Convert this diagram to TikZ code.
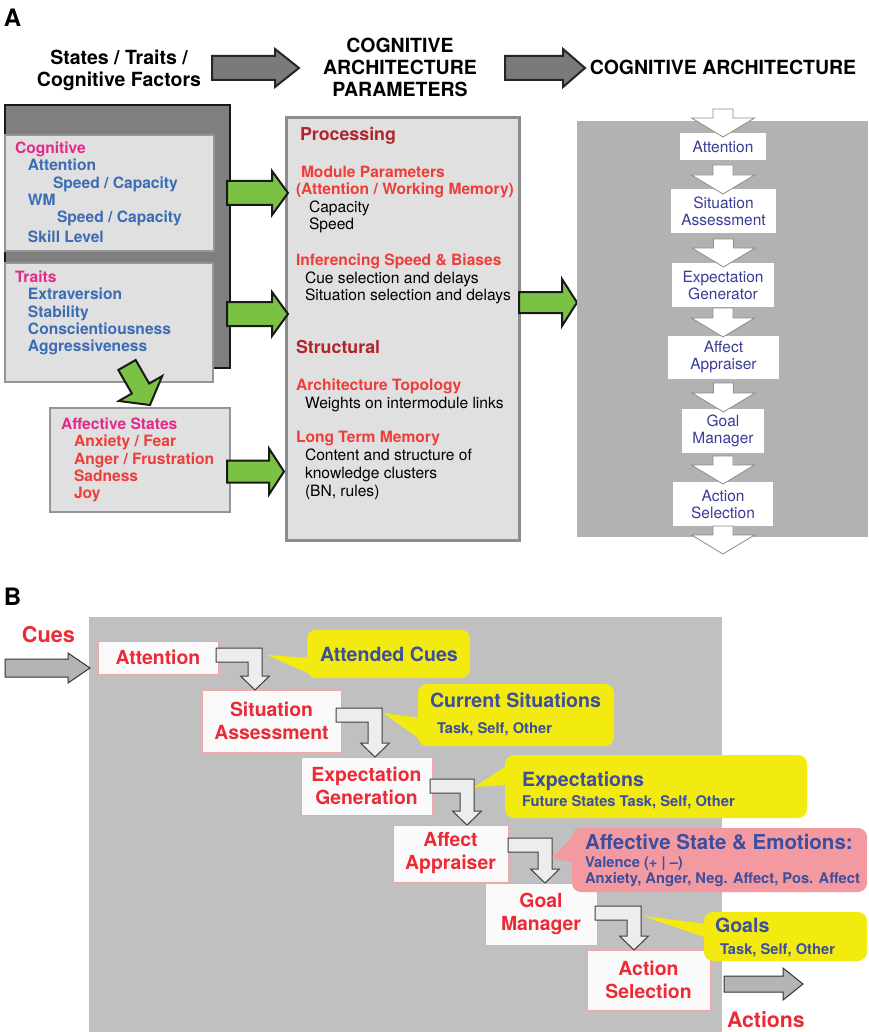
\documentclass[tikz,border=0pt]{standalone}
\usepackage{fontspec}
\setmainfont{TeX Gyre Heros}
\usetikzlibrary{calc}

\definecolor{magA}{HTML}{E5288B}
\definecolor{blueA}{HTML}{3B6CB4}
\definecolor{redA}{HTML}{EE3E3A}
\definecolor{darkredA}{HTML}{B0252B}
\definecolor{indigoA}{HTML}{3A3C98}
\definecolor{boxgray}{HTML}{E0E0E0}
\definecolor{boxline}{HTML}{959595}
\definecolor{darkpanel}{HTML}{7F7F7F}
\definecolor{archpanel}{HTML}{B2B2B2}
\definecolor{panelB}{HTML}{C0C0C0}
\definecolor{greenarrow}{HTML}{7BC143}
\definecolor{hdrarrow}{HTML}{7A7A7A}
\definecolor{lightarrow}{HTML}{B3B4B3}
\definecolor{redB}{HTML}{EC2A35}
\definecolor{nodeB}{HTML}{FAFAFA}
\definecolor{nodeBline}{HTML}{F5A3AB}
\definecolor{bendfill}{HTML}{EDEDED}
\definecolor{calloutY}{HTML}{F3EB0F}
\definecolor{calloutP}{HTML}{F39AA1}
\definecolor{blueB}{HTML}{3C4E9F}

\newcommand\setfs[2]{\fontsize{#1}{#2}\selectfont}

% straight block arrow: style, start, tip, body half-width, head half-width, head length
\newcommand\blockarrow[6]{%
  \path ($(#3)!#6!(#2)$) coordinate (baB);
  \draw[#1] ($(#2)!#4!90:(#3)$) -- ($(baB)!#4!90:(#3)$) -- ($(baB)!#5!90:(#3)$)
    -- (#3) -- ($(baB)!#5!-90:(#3)$) -- ($(baB)!#4!-90:(#3)$) -- ($(#2)!#4!-90:(#3)$) -- cycle;}

% white downward block arrow of the architecture column: start, tip
\newcommand\downblock[2]{%
  \draw[warr] let \p1=(#1), \p2=(#2) in
    (\x1-10pt,\y1) -- (\x1+10pt,\y1) -- (\x1+10pt,\y2+19pt) -- (\x1+31.5pt,\y2+19pt)
    -- (\x1,\y2) -- (\x1-31.5pt,\y2+19pt) -- (\x1-10pt,\y2+19pt) -- cycle;}

% bent arrow of the processing loop: bar top-left, target node, bar length
\newcommand\Lbend[3]{%
  \draw[bendarr] let \p1=(#1), \p2=(#2.north) in
    (\x1,\y1) -- (\x1+#3,\y1) -- (\x1+#3,\y2+14pt) -- (\x1+#3+7.5pt,\y2+14pt)
    -- (\x1+#3-7pt,\y2) -- (\x1+#3-21.5pt,\y2+14pt) -- (\x1+#3-14pt,\y2+14pt)
    -- (\x1+#3-14pt,\y1-14pt) -- (\x1,\y1-14pt) -- cycle;}

\begin{document}
\begin{tikzpicture}[x=1pt,y=-1pt,
  every node/.style={inner sep=0pt, outer sep=0pt},
  hdr/.style={align=center, font=\bfseries\setfs{19.5}{22.3}},
  hdrarr/.style={fill=hdrarrow, draw=black!85, line width=2pt, line join=miter},
  garr/.style={fill=greenarrow, draw=black!90, line width=2pt, line join=miter},
  larr/.style={fill=lightarrow, draw=black!80, line width=1pt, line join=miter},
  warr/.style={fill=white, draw=black!45, line width=0.8pt, line join=miter},
  bendarr/.style={fill=bendfill, draw=black!75, line width=1pt, line join=miter},
  dkbox/.style={anchor=north west, fill=darkpanel, draw=black!90, line width=2pt},
  lbox/.style={anchor=north west, fill=boxgray, draw=boxline, line width=2.2pt},
  mbox/.style={anchor=north west, fill=boxgray, draw=black!45, line width=3pt},
  ltxt/.style={anchor=north west, align=left, font=\bfseries\setfs{15.6}{17.3}},
  mtxt/.style={anchor=north west, align=left, font=\setfs{15.6}{17.4}},
  mhead/.style={anchor=base west, text=darkredA, font=\bfseries\setfs{17.8}{18}},
  anode/.style={fill=white, align=center, text=indigoA, font=\setfs{15.5}{17}},
  bnode/.style={fill=nodeB, draw=nodeBline, line width=1pt, align=center, text=redB,
    font=\bfseries\setfs{19.4}{23}},
  callout/.style={anchor=north west, fill=#1, rounded corners=9pt},
  ctxt/.style={anchor=base west, text=blueB, font=\bfseries\setfs{19.6}{20}},
  csub/.style={anchor=base west, text=blueB, font=\bfseries\setfs{14.7}{15}}]

\useasboundingbox (0,0) rectangle (868,1032);
\fill[white] (0,0) rectangle (868,1032);

% ---------------- Panel A ----------------
\node[anchor=base west, font=\bfseries\setfs{24}{24}] (labA) at (4,26.5) {A};

\node[hdr] (hdr1) at (119,70.5) {States / Traits /\\Cognitive Factors};
\node[hdr] (hdr2) at (400,67.5) {COGNITIVE\\ARCHITECTURE\\PARAMETERS};
\node[hdr, anchor=base] (hdr3) at (723,75) {COGNITIVE ARCHITECTURE};

\coordinate (h1s) at (212,68);
\coordinate (h1t) at (299,68);
\blockarrow{hdrarr}{h1s}{h1t}{12pt}{19pt}{24pt}
\coordinate (h2s) at (505,68);
\coordinate (h2t) at (585,68);
\blockarrow{hdrarr}{h2s}{h2t}{12pt}{19pt}{22pt}

% states / traits / cognitive factors
\node[dkbox, minimum width=225pt, minimum height=263pt] (dark) at (5,105) {};
\node[lbox, minimum width=209pt, minimum height=116pt] (cog) at (5,135) {};
\node[lbox, minimum width=208pt, minimum height=119pt] (traits) at (5,263) {};
\node[lbox, minimum width=180pt, minimum height=104pt] (affst) at (50,408) {};

\node[ltxt, text=blueA] (cogtxt) at (15,142)
  {\textcolor{magA}{Cognitive}\\
   \hspace*{13pt}Attention\\
   \hspace*{38pt}Speed / Capacity\\
   \hspace*{13pt}WM\\
   \hspace*{42pt}Speed / Capacity\\[2.7pt]
   \hspace*{13pt}Skill Level};
\node[ltxt, text=blueA] (traittxt) at (15,271)
  {\textcolor{magA}{Traits}\\
   \hspace*{13pt}Extraversion\\
   \hspace*{13pt}Stability\\
   \hspace*{13pt}Conscientiousness\\
   \hspace*{13pt}Aggressiveness};
\node[ltxt, text=redA] (afftxt) at (61,418)
  {\textcolor{magA}{Affective States}\\
   \hspace*{13pt}Anxiety / Fear\\
   \hspace*{13pt}Anger / Frustration\\
   \hspace*{13pt}Sadness\\
   \hspace*{13pt}Joy};

% architecture parameters
\node[mbox, minimum width=233pt, minimum height=422pt] (params) at (286,118) {};
\node[mhead] (proc) at (300,140.4) {Processing};
\node[mtxt] (modpar) at (296,166)
  {\hspace*{5pt}{\bfseries\color{redA}Module Parameters}\\
   {\bfseries\color{redA}(Attention / Working Memory)}\\
   \hspace*{13pt}Capacity\\
   \hspace*{13pt}Speed};
\node[mtxt] (infer) at (296,254)
  {{\bfseries\color{redA}Inferencing Speed \& Biases}\\
   \hspace*{9pt}Cue selection and delays\\
   \hspace*{9pt}Situation selection and delays};
\node[mhead] (struct) at (296,353.4) {Structural};
\node[mtxt] (topo) at (296,379)
  {{\bfseries\color{redA}Architecture Topology}\\
   \hspace*{9pt}Weights on intermodule links};
\node[mtxt, font=\setfs{15.6}{18}] (ltm) at (296,431)
  {{\bfseries\color{redA}Long Term Memory}\\
   \hspace*{9pt}Content and structure of\\
   \hspace*{9pt}knowledge clusters\\
   \hspace*{9pt}(BN, rules)};

% green links into the parameters
\coordinate (g1s) at (227,193);
\coordinate (g1t) at (288,193);
\blockarrow{garr}{g1s}{g1t}{12pt}{22pt}{16pt}
\coordinate (g2s) at (227,314);
\coordinate (g2t) at (288,314);
\blockarrow{garr}{g2s}{g2t}{12pt}{22pt}{16pt}
\coordinate (g3s) at (227,471.5);
\coordinate (g3t) at (284,471.5);
\blockarrow{garr}{g3s}{g3t}{11pt}{23pt}{15pt}
\coordinate (g4s) at (519,302.5);
\coordinate (g4t) at (577,302.5);
\blockarrow{garr}{g4s}{g4t}{10.5pt}{23.5pt}{15pt}
\coordinate (gds) at (127,365);
\coordinate (gdt) at (150,405);
\blockarrow{garr}{gds}{gdt}{10pt}{25pt}{19pt}

% cognitive architecture column
\node[anchor=north west, fill=archpanel, minimum width=291pt, minimum height=416pt] (arch) at (577,121) {};
\node[anode, minimum width=86pt, minimum height=27pt] (attA) at (723,146.5) {Attention};
\node[anode, minimum width=105pt, minimum height=44pt] (sitA) at (723.5,211) {Situation\\Assessment};
\node[anode, minimum width=102pt, minimum height=44pt] (expA) at (723,285) {Expectation\\Generator};
\node[anode, minimum width=111pt, minimum height=43pt] (affA) at (723.5,357.5) {Affect\\Appraiser};
\node[anode, minimum width=82pt, minimum height=44pt] (goalA) at (723,431) {Goal\\Manager};
\node[anode, minimum width=100pt, minimum height=44pt] (actA) at (723,504) {Action\\Selection};

\coordinate (archin) at (723,109);
\coordinate (archout) at (723,554);
\downblock{archin}{$(attA.north)+(0,4)$}
\downblock{$(attA.south)+(0,5)$}{$(sitA.north)+(0,5)$}
\downblock{$(sitA.south)+(0,6)$}{$(expA.north)+(0,4)$}
\downblock{$(expA.south)+(0,1)$}{$(affA.north)+(0,1)$}
\downblock{$(affA.south)+(0,4)$}{$(goalA.north)+(0,3)$}
\downblock{$(goalA.south)+(0,3)$}{$(actA.north)+(0,2)$}
\downblock{actA.south}{archout}

% ---------------- Panel B ----------------
\node[anchor=base west, font=\bfseries\setfs{24}{24}] (labB) at (4,605.5) {B};
\node[anchor=north west, fill=panelB, minimum width=633pt, minimum height=415pt] (loop) at (89,617) {};

\node[anchor=base, text=redB, font=\bfseries\setfs{21.7}{22}] (cues) at (48.5,642.8) {Cues};
\coordinate (cuesin) at (5,668);
\coordinate (cuestip) at (90,668);
\blockarrow{larr}{cuesin}{cuestip}{9pt}{15pt}{22pt}

\node[bnode, minimum width=120pt, minimum height=33pt] (attB) at (158,657.5) {Attention};
\node[bnode, minimum width=139pt, minimum height=62pt] (sitB) at (271.5,721) {Situation\\Assessment};
\node[bnode, minimum width=131pt, minimum height=58pt] (expB) at (366.5,786) {Expectation\\Generation};
\node[bnode, minimum width=115pt, minimum height=57pt] (affB) at (450.5,853.5) {Affect\\Appraiser};
\node[bnode, minimum width=112pt, minimum height=62pt] (goalB) at (541,914) {Goal\\Manager};
\node[bnode, minimum width=123pt, minimum height=60pt] (actB) at (648.5,980) {Action\\Selection};

\coordinate (b1) at ($(attB.east)+(-2,-9.5)$);
\Lbend{b1}{sitB}{46pt}
\coordinate (b2) at ($(sitB.east)+(-5,-13)$);
\Lbend{b2}{expB}{46pt}
\coordinate (b3) at ($(expB.east)+(-2,-7)$);
\Lbend{b3}{affB}{44pt}
\coordinate (b4) at ($(affB.east)+(0,-15.5)$);
\Lbend{b4}{goalB}{44pt}
\coordinate (b5) at ($(goalB.east)+(-2,-8)$);
\Lbend{b5}{actB}{46pt}

\coordinate (actout) at (724,984);
\coordinate (actend) at (803,984);
\blockarrow{larr}{actout}{actend}{8pt}{16pt}{20pt}
\node[anchor=base west, text=redB, font=\bfseries\setfs{21.3}{22}] (actions) at (727,1027.5) {Actions};

% callouts
\node[callout=calloutY, minimum width=163pt, minimum height=48pt] (co1) at (307,630) {};
\coordinate (p1) at (267,655);
\fill[calloutY] (p1) -- ($(co1.north west)+(3,28)$) -- ($(co1.north west)+(3,44)$) -- cycle;
\node[ctxt] (co1t) at (320,661) {Attended Cues};

\node[callout=calloutY, minimum width=196pt, minimum height=62pt] (co2) at (418,684) {};
\coordinate (p2) at (383,713);
\fill[calloutY] (p2) -- ($(co2.north west)+(3,34)$) -- ($(co2.north west)+(3,56)$) -- cycle;
\node[ctxt] (co2t) at (430,707) {Current Situations};
\node[csub] (co2s) at (437,733.3) {Task, Self, Other};

\node[callout=calloutY, minimum width=302pt, minimum height=63pt] (co3) at (505,755) {};
\coordinate (p3) at (474,787);
\fill[calloutY] (p3) -- ($(co3.north west)+(3,10)$) -- ($(co3.north west)+(3,30)$) -- cycle;
\node[ctxt] (co3t) at (522,786) {Expectations};
\node[csub] (co3s) at (522,806.3) {Future States Task, Self, Other};

\node[callout=calloutP, minimum width=295pt, minimum height=64pt] (co4) at (572,828) {};
\coordinate (p4) at (552,858);
\fill[calloutP] (p4) -- ($(co4.north west)+(3,6)$) -- ($(co4.north west)+(3,35)$) -- cycle;
\node[ctxt, font=\bfseries\setfs{20.5}{21}] (co4t) at (585,849.4) {Affective State \& Emotions:};
\node[csub] (co4s) at (585,867.3) {Valence (+ | –)};
\node[csub] (co4u) at (585,883.3) {Anxiety, Anger, Neg. Affect, Pos. Affect};

\node[callout=calloutY, minimum width=163pt, minimum height=49pt] (co5) at (704,912) {};
\coordinate (p5) at (643,916);
\fill[calloutY] (p5) -- ($(co5.north west)+(3,12)$) -- ($(co5.north west)+(3,26)$) -- cycle;
\node[ctxt] (co5t) at (715,932) {Goals};
\node[csub] (co5s) at (720,954.3) {Task, Self, Other};

\end{tikzpicture}
\end{document}
